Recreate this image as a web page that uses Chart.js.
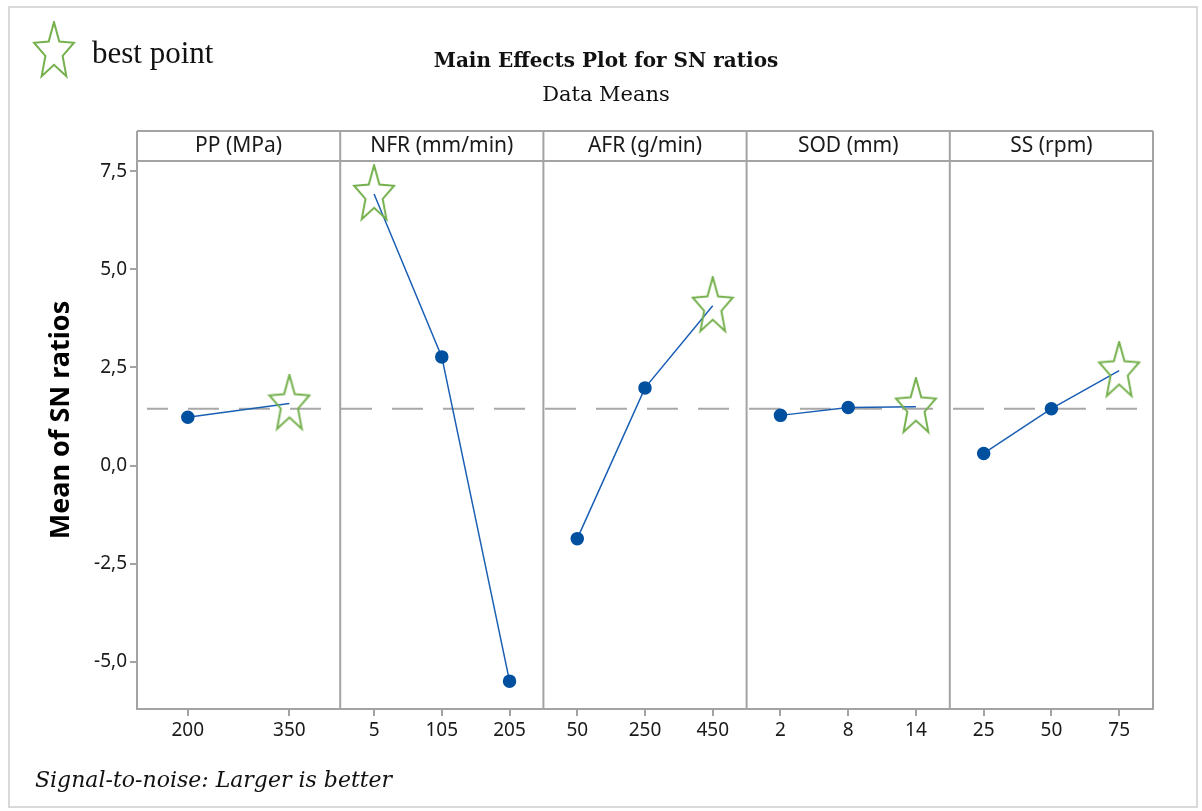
<!DOCTYPE html>
<html>
<head>
<meta charset="utf-8">
<title>Main Effects Plot for SN ratios</title>
<script src="https://cdn.jsdelivr.net/npm/chart.js@4.4.1/dist/chart.umd.min.js"></script>
<style>
  html, body { margin: 0; padding: 0; background: #fff; }
  #page { position: relative; width: 1202px; height: 811px; overflow: hidden; }
  #frame { position: absolute; left: 8px; top: 6px; width: 1186px; height: 798px; border: 2px solid #d9d9d9; }
  #graph { position: absolute; left: 0; top: 0; }
  .txt { position: absolute; white-space: nowrap; color: #111; }
  #title { left: 0; width: 1212px; top: 48px; text-align: center; font: bold 20px/24px "DejaVu Serif"; }
  #subtitle { left: 0; width: 1212px; top: 81px; text-align: center; font: 21px/26px "DejaVu Serif"; }
  #legend-star { position: absolute; left: 32px; top: 21px; }
  #legend-text { left: 92px; top: 37px; font: 31px/31px "Liberation Serif"; }
  #footnote { left: 35px; top: 767px; font: italic 22px/26px "DejaVu Serif"; }
</style>
</head>
<body>
<div id="page">
  <div id="frame"></div>
  <canvas id="graph" width="1202" height="811"></canvas>
  <div class="txt" id="title">Main Effects Plot for SN ratios</div>
  <div class="txt" id="subtitle">Data Means</div>
  <div class="txt" id="legend-text">best point</div>
  <div class="txt" id="footnote">Signal-to-noise: Larger is better</div>
</div>
<script>
// factors and their levels
const factors = ['PP (MPa)', 'NFR (mm/min)', 'AFR (g/min)', 'SOD (mm)', 'SS (rpm)'];
const ppLevels = ['200', '350'];
const nfrLevels = ['5', '105', '205'];
const afrLevels = ['50', '250', '450'];
const sodLevels = ['2', '8', '14'];
const ssLevels = ['25', '50', '75'];

// mean SN ratio per level
const ppSN = [1.23, 1.58];
const nfrSN = [6.92, 2.77, -5.49];
const afrSN = [-1.86, 1.98, 4.07];
const sodSN = [1.28, 1.48, 1.50];
const ssSN = [0.31, 1.45, 2.42];
const meanSN = 1.45;

const yTicks = [-5, -2.5, 0, 2.5, 5, 7.5];
const yTitle = 'Mean of SN ratios';

const panelIds = ['xPP', 'xNFR', 'xAFR', 'xSOD', 'xSS'];
const panelLevels = [ppLevels, nfrLevels, afrLevels, sodLevels, ssLevels];
const panelValues = [ppSN, nfrSN, afrSN, sodSN, ssSN];

// outline star used for the best level
function makeStar(w, h, color) {
  const c = document.createElement('canvas');
  c.width = w; c.height = h;
  const g = c.getContext('2d');
  const cx = w / 2, cy = h / 2;
  const rx = (w - 4) / 1.902, ry = (h - 6) / 1.809;
  g.beginPath();
  for (let i = 0; i < 10; i++) {
    const ang = i * Math.PI / 5;
    const k = i % 2 === 0 ? 1 : 0.43;
    const px = cx + rx * k * Math.sin(ang);
    const py = cy - ry * k * Math.cos(ang) + 1;
    if (i === 0) g.moveTo(px, py); else g.lineTo(px, py);
  }
  g.closePath();
  g.strokeStyle = color;
  g.lineWidth = 2;
  g.stroke();
  return c;
}

const star = makeStar(44, 60, '#74b04c');
const legendStar = makeStar(44, 60, '#74b04c');
legendStar.id = 'legend-star';
document.getElementById('page').appendChild(legendStar);

const datasets = panelIds.map((id, i) => {
  const vals = panelValues[i];
  const best = Math.max(...vals);
  return {
    label: factors[i],
    xAxisID: id,
    yAxisID: 'y',
    data: vals,
    borderColor: '#1a5fb4',
    borderWidth: 1.5,
    pointBackgroundColor: '#0050a0',
    pointBorderColor: '#0050a0',
    pointRadius: 6,
    pointStyle: vals.map(v => v === best ? star : 'circle'),
    tension: 0,
    clip: false
  };
});

function panelAxis(levels) {
  return {
    type: 'category',
    position: 'bottom',
    stack: 'panels',
    stackWeight: 1,
    labels: levels,
    offset: true,
    border: { display: true, color: '#a3a3a3', width: 2 },
    grid: { drawOnChartArea: false, tickLength: 7, color: '#a3a3a3', lineWidth: 2 },
    ticks: { color: '#1a1a1a', font: { family: 'Noto Sans', size: 19 }, padding: 3, maxRotation: 0, autoSkip: false },
    afterFit(axis) { axis.height = 40; }
  };
}

// panel frames, header strip, grand mean line and y title
const panelFrame = {
  id: 'panelFrame',
  beforeDatasetsDraw(chart) {
    const { ctx, chartArea: a, scales } = chart;
    const headTop = a.top - 30;
    ctx.save();
    ctx.strokeStyle = '#a3a3a3';
    ctx.lineWidth = 2;
    ctx.beginPath();
    ctx.moveTo(a.left, headTop); ctx.lineTo(a.right, headTop);
    ctx.moveTo(a.left, a.top); ctx.lineTo(a.right, a.top);
    ctx.moveTo(a.left, headTop); ctx.lineTo(a.left, a.bottom);
    panelIds.forEach(id => {
      const s = scales[id];
      ctx.moveTo(s.right, headTop); ctx.lineTo(s.right, a.bottom);
    });
    ctx.stroke();

    const y = scales.y.getPixelForValue(meanSN);
    ctx.strokeStyle = '#a8a8a8';
    ctx.setLineDash([31, 20]);
    ctx.lineDashOffset = 10;
    ctx.beginPath();
    ctx.moveTo(a.left + 10, y);
    ctx.lineTo(a.right - 15, y);
    ctx.stroke();
    ctx.setLineDash([]);

    ctx.fillStyle = '#1a1a1a';
    ctx.font = '21px "Noto Sans"';
    ctx.textAlign = 'center';
    ctx.textBaseline = 'middle';
    panelIds.forEach((id, i) => {
      const s = scales[id];
      ctx.fillText(factors[i], (s.left + s.right) / 2, headTop + 15);
    });

    // y title sits a little above the middle of the axis, as in Minitab
    ctx.translate(scales.y.left + 18, (a.top + a.bottom) / 2 - 15);
    ctx.rotate(-Math.PI / 2);
    ctx.fillStyle = '#000';
    ctx.font = 'bold 27px "Noto Sans"';
    ctx.fillText(yTitle, 0, 0);
    ctx.restore();
  }
};

const scales = {
  y: {
    type: 'linear',
    position: 'left',
    min: -6.2,
    max: 7.76,
    afterBuildTicks(axis) { axis.ticks = yTicks.map(v => ({ value: v })); },
    border: { display: true, color: '#a3a3a3', width: 2 },
    grid: { drawOnChartArea: false, tickLength: 7, color: '#a3a3a3', lineWidth: 2 },
    ticks: {
      color: '#1a1a1a',
      font: { family: 'Noto Sans', size: 19 },
      padding: 3,
      callback: v => v.toFixed(1).replace('.', ',')
    },
    afterFit(axis) { axis.width = 94; }
  }
};
panelIds.forEach((id, i) => { scales[id] = panelAxis(panelLevels[i]); });

new Chart(document.getElementById('graph').getContext('2d'), {
  type: 'line',
  data: { datasets },
  options: {
    responsive: false,
    animation: false,
    layout: { padding: { left: 43, right: 49, top: 161, bottom: 62 } },
    plugins: {
      legend: { display: false },
      tooltip: { enabled: false },
      title: { display: false }
    },
    scales
  },
  plugins: [panelFrame]
});
</script>
</body>
</html>
